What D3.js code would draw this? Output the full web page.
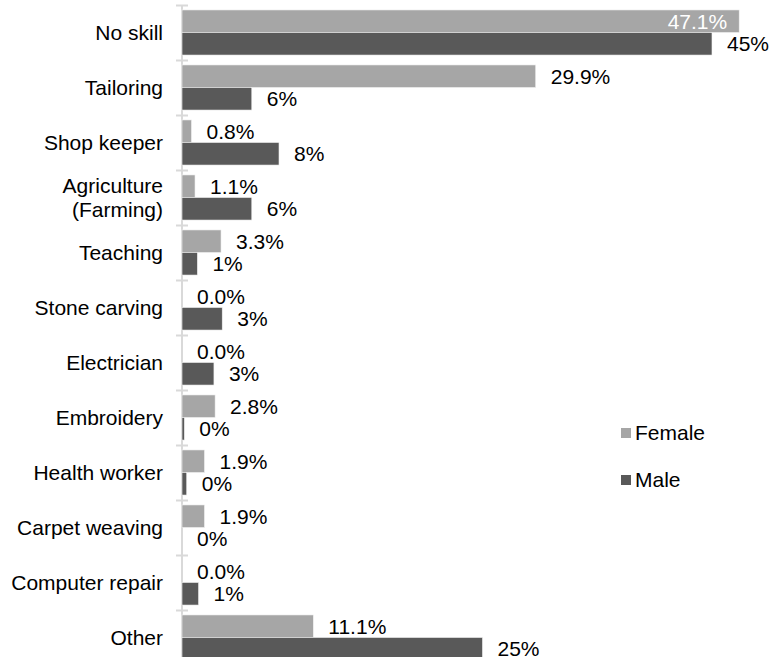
<!DOCTYPE html>
<html>
<head>
<meta charset="utf-8">
<script src="https://cdn.jsdelivr.net/npm/d3@7"></script>
<style>
	body { margin: 0; background: #fff; }
	svg text { font-family: "Liberation Sans", Arial, sans-serif; }
</style>
</head>
<body>
<svg id="bar-plot" width="769" height="657" viewBox="0 0 769 657"></svg>
<script>
// skills by gender, percent
const categories = ["No skill", "Tailoring", "Shop keeper", "Agriculture\n(Farming)", "Teaching",
	"Stone carving", "Electrician", "Embroidery", "Health worker", "Carpet weaving",
	"Computer repair", "Other"];
const female = [47.1, 29.9, 0.8, 1.1, 3.3, 0.0, 0.0, 2.8, 1.9, 1.9, 0.0, 11.1];
const male = [44.8, 5.9, 8.2, 5.9, 1.3, 3.4, 2.7, 0.2, 0.4, 0.0, 1.4, 25.4];
const series = ["Female", "Male"];
const colors = ["#a6a6a6", "#595959"];

const svg = d3.select('#bar-plot');
const fontSize = 21;

const rows = categories.map((c, i) => ({cat: c, Female: female[i], Male: male[i]}));

const x = d3.scaleLinear()
	.domain([0, 50])
	.range([182, 182 + 50 * 11.83]);

const y = d3.scaleBand()
	.domain(categories)
	.range([5, 665])
	.paddingInner(0.18)
	.paddingOuter(0.09);

const y_inner = d3.scaleBand()
	.domain(series)
	.range([0, y.bandwidth()]);

// axis line + ticks between groups
svg.append('line')
	.attr('x1', x(0)).attr('x2', x(0))
	.attr('y1', 5).attr('y2', 665)
	.style('stroke', '#d9d9d9')
	.style('stroke-width', 2);

const boundaries = categories.map(c => y(c) - y.step() * y.paddingInner() / 2 + 0.5);
boundaries.push(665);
svg.selectAll('.tick')
	.data(boundaries)
	.enter()
	.append('line')
	.classed('tick', true)
	.attr('x1', x(0) - 6).attr('x2', x(0) + 6)
	.attr('y1', d => d).attr('y2', d => d)
	.style('stroke', '#d9d9d9')
	.style('stroke-width', 2);

// category labels
const cat_labels = svg.selectAll('.cat')
	.data(categories)
	.enter()
	.append('text')
	.classed('cat', true)
	.attr('text-anchor', 'end')
	.style('font-size', fontSize + 'px')
	.style('fill', '#000');

cat_labels.each(function(d) {
	const lines = d.split('\n');
	const cy = y(d) + y.bandwidth() / 2;
	lines.forEach((line, k) => {
		d3.select(this).append('tspan')
			.attr('x', 163)
			.attr('y', cy + (k - (lines.length - 1) / 2) * 24)
			.attr('dy', '0.35em')
			.text(line);
	});
});

// bars
const groups = svg.selectAll('.group')
	.data(rows)
	.enter()
	.append('g')
	.classed('group', true)
	.attr('transform', d => `translate(0,${y(d.cat)})`);

series.forEach((s, si) => {
	groups.append('rect')
		.attr('x', x(0))
		.attr('y', y_inner(s))
		.attr('width', d => x(d[s]) - x(0))
		.attr('height', y_inner.bandwidth())
		.style('fill', colors[si])
		.style('stroke', '#f2f2f2')
		.style('stroke-width', 0.6);

	groups.append('text')
		.attr('x', d => (s === 'Female' && d[s] > 40) ? x(d[s]) - 12 : x(d[s]) + 15)
		.attr('y', y_inner(s) + y_inner.bandwidth() / 2)
		.attr('dy', '0.35em')
		.attr('text-anchor', d => (s === 'Female' && d[s] > 40) ? 'end' : 'start')
		.style('font-size', fontSize + 'px')
		.style('fill', d => (s === 'Female' && d[s] > 40) ? '#fff' : '#000')
		.text(d => s === 'Female' ? d3.format('.1f')(d[s]) + '%' : d3.format('.0f')(d[s]) + '%');
});

// legend
const legend = svg.selectAll('.legend')
	.data(series)
	.enter()
	.append('g')
	.classed('legend', true)
	.attr('transform', (d, i) => `translate(621,${428 + i * 47})`);

legend.append('rect')
	.attr('width', 10).attr('height', 10)
	.style('fill', (d, i) => colors[i]);

legend.append('text')
	.attr('x', 14)
	.attr('y', 5)
	.attr('dy', '0.35em')
	.style('font-size', fontSize + 'px')
	.text(d => d);
</script>
</body>
</html>
